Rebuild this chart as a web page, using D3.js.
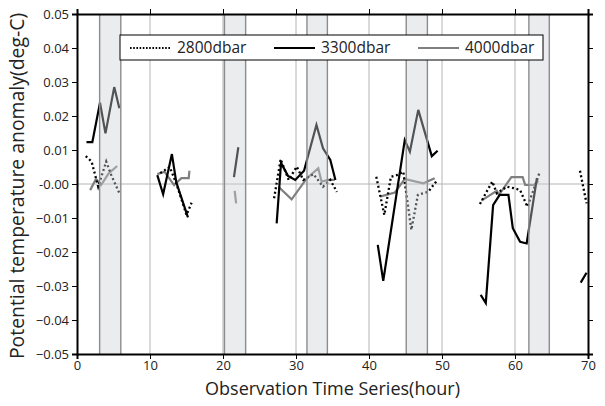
<!DOCTYPE html>
<html>
<head>
<meta charset="utf-8">
<script src="https://cdn.jsdelivr.net/npm/d3@7"></script>
<style>
  body { margin: 0; background: #fff; }
  text { font-family: "Open Sans", sans-serif; fill: #222; }
</style>
</head>
<body>
<svg id="chart" width="605" height="406"></svg>
<script>
const xTicks = [0, 10, 20, 30, 40, 50, 60, 70];
const yTicks = [-0.05, -0.04, -0.03, -0.02, -0.01, 0, 0.01, 0.02, 0.03, 0.04, 0.05];
const seriesNames = ["2800dbar", "3300dbar", "4000dbar"];

// shaded observation windows (hour start, hour end)
const bands = [[3.1, 6.0], [20.2, 23.1], [31.5, 34.3], [45.1, 48.0], [61.9, 64.7]];

// null breaks the line into separate segments
const hours2800 = [1.2, 2.0, 2.9, 4.0, 4.7, 5.8, null,
  11.4, 12.7, 13.6, 15.0, 15.7, null,
  27.0, 27.9, 29.0, 30.1, 31.0, 32.4, 33.7, 34.7, 35.6, null,
  41.0, 42.1, 43.0, 43.8, 44.7, 45.8, 46.7, 48.1, 49.3, null,
  55.2, 56.1, 56.9, 57.5, 58.9, 60.0, 60.7, 61.7, 62.7, 63.4, null,
  68.9, 69.8];
const temp2800 = [0.0082, 0.0066, -0.0008, 0.0066, 0.0026, -0.0027, null,
  0.0032, 0.0050, 0.0002, -0.0091, -0.0055, null,
  -0.0042, 0.0073, 0.0012, 0.0051, 0.0012, 0.0029, -0.0008, 0.0012, -0.0023, null,
  0.0021, -0.0091, 0.0021, 0.0026, 0.0036, -0.0135, -0.0032, -0.0023, 0.0010, null,
  -0.0059, -0.0023, 0.0007, -0.0027, -0.0008, -0.0013, -0.0018, -0.0067, -0.0008, 0.0036, null,
  0.0039, -0.0057];

const hours3300 = [1.3, 2.1, 3.15, 3.9, 5.1, 5.8, null,
  11.0, 11.8, 13.0, 13.6, 15.2, null,
  21.5, 22.1, null,
  27.35, 27.95, 28.9, 29.9, 31.1, 32.8, 33.7, 34.7, 35.4, null,
  41.2, 41.95, 44.9, 45.6, 46.75, 48.6, 49.4, null,
  55.3, 56.0, 57.0, 57.9, 59.1, 59.7, 60.7, 61.6, 63.0, null,
  69.0, 69.8];
const temp3300 = [0.0123, 0.0123, 0.0239, 0.0149, 0.0285, 0.0223, null,
  0.0026, -0.0030, 0.0088, 0.0005, -0.0098, null,
  0.0020, 0.0108, null,
  -0.0116, 0.0062, 0.0024, 0.0012, 0.0039, 0.0174, 0.0105, 0.0071, 0.0012, null,
  -0.0179, -0.0285, 0.0129, 0.0095, 0.0218, 0.0082, 0.0098, null,
  -0.0326, -0.0350, -0.0062, -0.0032, -0.0032, -0.0130, -0.0170, -0.0175, 0.0017, null,
  -0.0290, -0.0261];

const hours4000 = [1.8, 2.6, 3.3, 4.3, 5.5, null,
  11.0, 12.0, 13.3, 14.3, 15.3, 15.4, null,
  21.6, 21.8, null,
  27.6, 29.4, 31.5, 33.05, 33.5, 34.4, 35.3, null,
  41.5, 43.55, 44.9, 45.85, 47.45, 49.0, null,
  55.4, 57.5, 57.8, 59.5, 61.05, 61.4, 62.7, 63.2];
const temp4000 = [-0.0018, 0.0015, -0.0003, 0.0030, 0.0053, null,
  0.0029, 0.0036, -0.0003, 0.0017, 0.0017, 0.0039, null,
  -0.0020, -0.0057, null,
  -0.0008, -0.0045, 0.0017, 0.0046, 0.0007, 0.0012, 0.0012, null,
  -0.0037, -0.0025, 0.0015, 0.0010, 0.0002, 0.0017, null,
  -0.0049, -0.0020, -0.0032, 0.0020, 0.0020, -0.0003, -0.0003, 0.0010];

const width = 605, height = 406;
const margin = { top: 14, right: 17, bottom: 52, left: 77 };
const innerW = width - margin.left - margin.right;
const innerH = height - margin.top - margin.bottom;

const svg = d3.select("#chart");
const g = svg.append("g").attr("transform", `translate(${margin.left},${margin.top})`);

const x = d3.scaleLinear().domain([0, 70]).range([0, innerW]);
const y = d3.scaleLinear().domain([-0.05, 0.05]).range([innerH, 0]);

// grid
g.selectAll("line.vgrid")
  .data(xTicks.slice(1, -1))
  .enter().append("line")
  .attr("x1", d => x(d)).attr("x2", d => x(d))
  .attr("y1", 0).attr("y2", innerH)
  .attr("stroke", "#b4b4b4").attr("stroke-width", 1);

g.append("line")
  .attr("x1", 0).attr("x2", innerW)
  .attr("y1", y(0)).attr("y2", y(0))
  .attr("stroke", "#b4b4b4").attr("stroke-width", 1);

const styles = {
  "2800dbar": { color: "#000", width: 2.3, dash: "2,2.6" },
  "3300dbar": { color: "#000", width: 2.2, dash: null },
  "4000dbar": { color: "#7f7f7f", width: 2.2, dash: null }
};

const series = [
  { name: "2800dbar", hours: hours2800, temps: temp2800 },
  { name: "3300dbar", hours: hours3300, temps: temp3300 },
  { name: "4000dbar", hours: hours4000, temps: temp4000 }
];

const line = d3.line()
  .defined(d => d[1] !== null)
  .x(d => x(d[0]))
  .y(d => y(d[1]));

// draw 4000 first so the black lines sit on top
[series[2], series[1], series[0]].forEach(s => {
  const st = styles[s.name];
  g.append("path")
    .attr("d", line(d3.zip(s.hours, s.temps)))
    .attr("fill", "none")
    .attr("stroke", st.color)
    .attr("stroke-width", st.width)
    .attr("stroke-dasharray", st.dash)
    .attr("stroke-linejoin", "miter");
});

// translucent bands over the lines
bands.forEach(([a, b]) => {
  g.append("rect")
    .attr("x", x(a)).attr("y", 0)
    .attr("width", x(b) - x(a)).attr("height", innerH)
    .attr("fill", "rgb(206,208,212)")
    .attr("fill-opacity", 0.4);
  [a, b].forEach(v => {
    g.append("line")
      .attr("x1", x(v)).attr("x2", x(v))
      .attr("y1", 0).attr("y2", innerH)
      .attr("stroke", "#8c8c8c").attr("stroke-width", 1.4);
  });
});

// axes
const fmtY = d => (d === 0 ? "-0.00" : d3.format(".2f")(d));

const axisB = g.append("g").attr("transform", `translate(0,${innerH})`)
  .call(d3.axisBottom(x).tickValues(xTicks).tickSize(5).tickPadding(2).tickFormat(d3.format("d")));
const axisT = g.append("g")
  .call(d3.axisTop(x).tickValues(xTicks).tickSize(5).tickFormat(""));
const axisL = g.append("g")
  .call(d3.axisLeft(y).tickValues(yTicks).tickSize(5).tickPadding(3).tickFormat(fmtY));
const axisR = g.append("g").attr("transform", `translate(${innerW},0)`)
  .call(d3.axisRight(y).tickValues(yTicks).tickSize(5).tickFormat(""));

[axisB, axisT, axisL, axisR].forEach(a => {
  a.select(".domain").attr("stroke", "#000").attr("stroke-width", 2);
  a.selectAll(".tick line").attr("stroke", "#000").attr("stroke-width", 1);
  a.selectAll(".tick text").style("font-family", "'Open Sans', sans-serif")
    .style("font-size", "13px").attr("fill", "#222");
});

// axis titles
svg.append("text")
  .attr("x", margin.left + innerW / 2)
  .attr("y", 395)
  .attr("text-anchor", "middle")
  .style("font-size", "18px")
  .text("Observation Time Series(hour)");

svg.append("text")
  .attr("transform", `translate(24,${margin.top + innerH / 2 + 2}) rotate(-90)`)
  .attr("text-anchor", "middle")
  .style("font-size", "19.4px")
  .text("Potential temperature anomaly(deg-C)");

// legend
const legend = svg.append("g");
legend.append("rect")
  .attr("x", 120).attr("y", 35)
  .attr("width", 423).attr("height", 25)
  .attr("fill", "#fff").attr("stroke", "#000").attr("stroke-width", 1);

const legendX = [130, 274, 418];
seriesNames.forEach((name, i) => {
  const st = styles[name];
  legend.append("line")
    .attr("x1", legendX[i]).attr("x2", legendX[i] + 41)
    .attr("y1", 48).attr("y2", 48)
    .attr("stroke", st.color)
    .attr("stroke-width", name === "2800dbar" ? 2 : 2.2)
    .attr("stroke-dasharray", st.dash ? "1.6,1.6" : null);
  legend.append("text")
    .attr("x", legendX[i] + 47)
    .attr("y", 48)
    .attr("dy", "0.35em")
    .style("font-size", "15.5px")
    .text(name);
});
</script>
</body>
</html>
